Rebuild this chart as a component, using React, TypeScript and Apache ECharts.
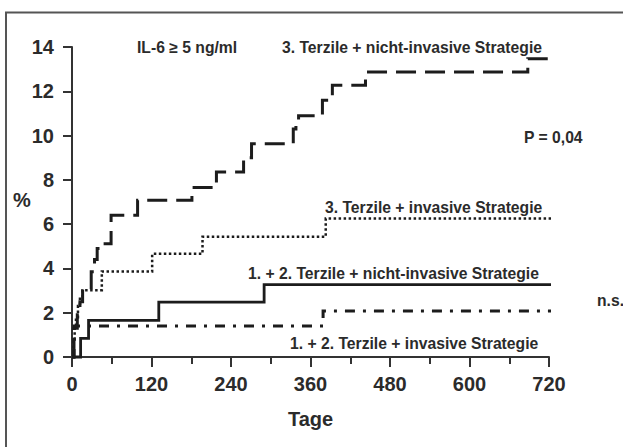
import React, { useEffect, useRef } from "react";
import * as echarts from "echarts";

// 3. Terzile + nicht-invasive Strategie (dashed)
const daysA = [0, 3, 8, 12, 16, 29, 34, 38, 46, 59, 99, 181, 218, 259, 271, 334, 338, 342, 378, 393, 443, 688, 750];
const pctA = [0, 1.3, 2.0, 2.5, 3.05, 3.85, 4.4, 4.9, 5.12, 6.4, 7.08, 7.65, 8.35, 9.0, 9.63, 10.3, 10.6, 10.9, 11.6, 12.27, 12.87, 13.47, 13.47];

// 3. Terzile + invasive Strategie (dotted)
const daysB = [0, 2, 4, 6, 9, 12, 16, 45, 121, 197, 383, 750];
const pctB = [0, 0.8, 1.3, 1.8, 2.3, 2.7, 3.02, 3.86, 4.66, 5.43, 6.25, 6.25];

// 1. + 2. Terzile + nicht-invasive Strategie (solid)
const daysC = [0, 13, 25, 131, 290, 750];
const pctC = [0, 0.84, 1.65, 2.48, 3.27, 3.27];

// 1. + 2. Terzile + invasive Strategie (dash-dot)
const daysD = [0, 3, 379, 748];
const pctD = [0, 1.4, 2.08, 2.08];

const xTicks = { min: 0, max: 720, step: 120 };
const yTicks = { min: 0, max: 14, step: 2 };

const FONT = '"Liberation Sans", Arial, Helvetica, sans-serif';
const TXT = "#2b2b2b";
const LINE = "#1c1c1c";

const zip = (xs: number[], ys: number[]) => xs.map((x, i) => [x, ys[i]]);

export default function App() {
  const ref = useRef<HTMLDivElement>(null);
  useEffect(() => {
    if (!ref.current) return;
    const chart = echarts.init(ref.current, undefined, { renderer: "svg" });
    const label = (text: string, x: number, y: number, size = 15.7) => ({
      type: "text",
      x,
      y,
      style: {
        text,
        fill: TXT,
        font: `bold ${size}px ${FONT}`,
        verticalAlign: "middle",
        align: "left",
      },
    });
    const base = (name: string, xs: number[], ys: number[], lineStyle: any) => ({
      name,
      type: "line",
      step: "end",
      symbol: "none",
      clip: false,
      data: zip(xs, ys),
      lineStyle: { color: LINE, cap: "butt", join: "miter", ...lineStyle },
    });
    chart.setOption({
      animation: false,
      backgroundColor: "#ffffff",
      grid: { left: 72, top: 47, width: 477, height: 310, containLabel: false },
      xAxis: {
        type: "value",
        min: xTicks.min,
        max: xTicks.max,
        interval: xTicks.step,
        name: "Tage",
        nameLocation: "middle",
        nameGap: 52,
        nameTextStyle: { fontFamily: FONT, fontSize: 20, fontWeight: "bold", color: TXT },
        axisLine: { show: true, onZero: false, lineStyle: { color: "#333", width: 2 } },
        axisTick: { show: true, length: 10, lineStyle: { color: "#333", width: 2 } },
        minorTick: { show: true, splitNumber: 2, length: 7, lineStyle: { color: "#333", width: 2 } },
        splitLine: { show: false },
        minorSplitLine: { show: false },
        axisLabel: { fontFamily: FONT, fontSize: 20, fontWeight: "bold", color: TXT, margin: 17 },
      },
      yAxis: {
        type: "value",
        min: yTicks.min,
        max: yTicks.max,
        interval: yTicks.step,
        axisLine: { show: true, lineStyle: { color: "#333", width: 2 } },
        axisTick: { show: true, length: 9, lineStyle: { color: "#333", width: 2 } },
        splitLine: { show: false },
        axisLabel: { fontFamily: FONT, fontSize: 20, fontWeight: "bold", color: TXT, margin: 18 },
      },
      series: [
        base("3. Terzile + nicht-invasive Strategie", daysA, pctA, { width: 3, type: [20, 9] }),
        base("3. Terzile + invasive Strategie", daysB, pctB, { width: 2.5, type: [2.5, 2.5] }),
        base("1. + 2. Terzile + nicht-invasive Strategie", daysC, pctC, { width: 2.8, type: "solid" }),
        base("1. + 2. Terzile + invasive Strategie", daysD, pctD, { width: 3, type: [10, 8, 3, 8] }),
      ],
      graphic: [
        {
          type: "rect",
          shape: { x: 6, y: 12.5, width: 700, height: 500 },
          style: { fill: "none", stroke: "#555", lineWidth: 2 },
          silent: true,
        },
        label("%", 13, 200, 20),
        label("IL-6 \u2265 5 ng/ml", 137, 47),
        label("3. Terzile + nicht-invasive Strategie", 282, 47),
        label("P = 0,04", 524, 137),
        label("3. Terzile + invasive Strategie", 325, 207),
        label("1. + 2. Terzile + nicht-invasive Strategie", 248, 273),
        label("n.s.", 597, 300),
        label("1. + 2. Terzile + invasive Strategie", 290, 343),
      ],
    });
    return () => chart.dispose();
  }, []);
  return (
    <div
      ref={ref}
      style={{ position: "absolute", left: 0, top: 0, width: 623, height: 447 }}
    />
  );
}
